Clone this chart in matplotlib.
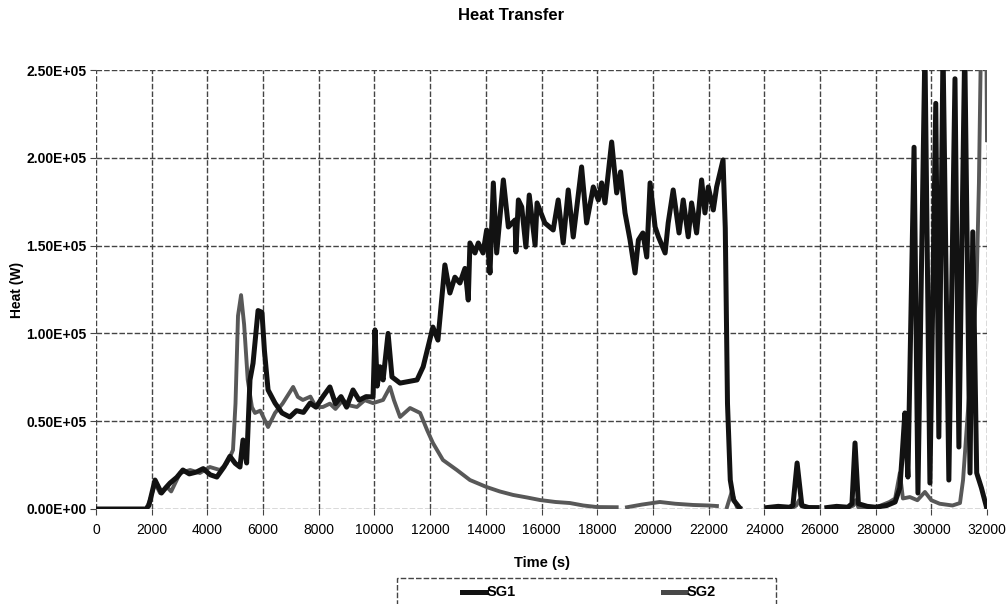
import numpy as np
import matplotlib
matplotlib.use("Agg")
import matplotlib.pyplot as plt
from matplotlib.patches import Rectangle
from matplotlib.lines import Line2D

nan = np.nan

title = "Heat Transfer"
x_label = "Time (s)"
y_label = "Heat (W)"
series_names = ["SG1", "SG2"]
x_ticks = list(range(0, 32001, 2000))
y_ticks = [0, 50000, 100000, 150000, 200000, 250000]

sg1_t = [0, 1800, 1900, 2120, 2350, 2500, 2660, 2900, 3120, 3350, 3600, 3850, 4100, 4340, 4600, 4810,
         5000, 5170, 5280, 5410, 5530, 5640, 5820, 5960, 6050, 6180, 6430, 6680, 6960, 7200, 7450, 7690,
         7900, 8150, 8400, 8600, 8800, 9000, 9230, 9450, 9700, 9950, 10020, 10100, 10200, 10310, 10490,
         10630, 10920, 11200, 11530, 11750, 12100, 12280, 12530, 12710, 12890, 13070, 13250, 13370, 13430,
         13610, 13730, 13900, 14030, 14150, 14270, 14390, 14630, 14810, 15050, 15080, 15170, 15290, 15440,
         15560, 15770, 15840, 16120, 16420, 16600, 16780, 16960, 17140, 17440, 17620, 17860, 18040, 18160,
         18280, 18520, 18700, 18840, 19000, 19180, 19360, 19480, 19640, 19780, 19900, 20080, 20200, 20440,
         20550, 20730, 20940, 21090, 21270, 21390, 21570, 21750, 21870, 21990, 22170, 22290, 22520, 22600,
         22680, 22780, 22900, 23100, 23150,
         24100, 24500, 24900, 25030, 25180, 25350, 25600, 25900, 25950,
         26250, 26600, 27000, 27150, 27260, 27380, 27700, 28000, 28400, 28700, 28870, 28950, 29050, 29160,
         29380, 29520, 29770, 29950, 30160, 30270, 30420, 30630, 30850, 30990, 31200, 31390, 31490, 31630,
         31800, 32000]
sg1_h = [0, 0, 2000, 16500, 9100, 12000, 14800, 18000, 22200, 20000, 21000, 23000, 19500, 18200, 24000, 30000,
         26000, 23900, 39300, 26200, 73500, 83000, 113000, 112000, 90000, 67800, 60300, 54700, 52400, 56000, 55000, 60300,
         58000, 64000, 69500, 60000, 64000, 58000, 67800, 62000, 64000, 63800, 102000, 70000, 81000, 73500, 100000,
         75200, 71700, 72500, 73500, 81000, 103600, 96200, 139000, 123000, 132000, 128700, 137000, 119000, 151500,
         145800, 151500, 145800, 158900, 134400, 185700, 145800, 187400, 160600, 164600, 146400, 176000, 172000, 149200,
         178800, 150300, 174300, 162900, 158900, 176000, 151500, 181700, 154900, 194800, 162900, 183400, 176000, 185700,
         174300, 209000, 180000, 192000, 168600, 153200, 134400, 153200, 157200, 143500, 185700, 160600, 155000, 145800,
         162900, 181700, 157200, 176000, 155000, 174300, 157200, 187400, 168600, 183400, 170300, 183400, 198800, 160000,
         60000, 16500, 5000, 1000, nan,
         800, 1500, 1000, 2000, 26200, 2000, 800, 800, nan,
         800, 1500, 1000, 3000, 37600, 3000, 1500, 1000, 2000, 4000, 12000, 30000, 54700, 18200,
         206000, 9100, 262000, 14800, 231000, 41000, 262000, 16500, 245000, 35300, 262000, 20500, 157800, 20500,
         12000, 0]

sg2_t = [0, 1800, 1940, 2120, 2300, 2550, 2700, 3020, 3380, 3730, 4090, 4450, 4700, 4810, 4920, 5010,
         5100, 5210, 5320, 5450, 5600, 5710, 5900, 6180, 6430, 6700, 6900, 7080, 7250, 7430, 7700, 7900,
         8150, 8400, 8600, 8870, 9100, 9370, 9650, 9950, 10310, 10560, 10700, 10920, 11280, 11640, 11890,
         12100, 12460, 12960, 13430, 14030, 14500, 14980, 15500, 15950, 16500, 17020, 17500, 18000, 18700,
         18850, 19070, 19600, 20250, 20800, 21440, 22000, 22300, 22450, 22660, 22830, 23020, 23150, 23200,
         24100, 25000, 25150, 25250, 25350, 25900, 25950, 26250, 27000, 27200, 27280, 27380, 28000, 28500,
         28700, 28870, 28980, 29230, 29500, 29770, 30000, 30300, 30760, 31030, 31140, 31310, 31490, 31630,
         31710, 31780, 31980, 32000]
sg2_h = [0, 0, 5100, 14800, 9100, 12500, 10000, 20500, 22200, 20500, 23900, 22200, 26000, 29600, 33600, 60000,
         110000, 121800, 105000, 73500, 58000, 54700, 56000, 46700, 54700, 60000, 65000, 69500, 63800, 62100, 64000, 58000,
         58100, 60000, 57000, 62100, 59000, 58100, 62000, 60300, 62100, 69500, 62000, 52400, 57500, 54700, 45000,
         37600, 27900, 22200, 16500, 12500, 10000, 8000, 6500, 5100, 4000, 3400, 2000, 1100, 1000,
         nan, 1000, 2500, 4000, 3000, 2300, 2000, 1700, nan, 1000, 9700, 1000, 500, nan,
         500, 500, 2000, 5000, 1500, 500, nan, 500, 500, 2000, 5000, 1000, 800, 4000,
         6000, 20500, 6000, 6800, 5000, 9700, 5000, 3000, 2000, 3400, 16500, 54700, 92300, 130000,
         185700, 262000, 262000, 210000]

W, H = 1007, 604
fig = plt.figure(figsize=(W / 100, H / 100), dpi=100)
ax = fig.add_axes([96 / W, 1 - 509 / H, (987 - 96) / W, (509 - 70) / H])

ax.plot(sg2_t, sg2_h, color="#585858", lw=2.8, solid_joinstyle="round", zorder=3)
ax.plot(sg1_t, sg1_h, color="#121212", lw=3.6, solid_joinstyle="round", zorder=4)

ax.set_xlim(0, 32000)
ax.set_ylim(0, 250000)
ax.set_xticks(x_ticks)
ax.set_yticks(y_ticks)
ax.set_xticklabels([str(v) for v in x_ticks], fontsize=10, family="Liberation Sans")
ax.set_yticklabels(["%.2fE+05" % (v / 1e5) if v else "0.00E+00" for v in y_ticks],
                   fontsize=10, family="Liberation Sans", fontweight="bold")
ax.grid(True, color="#444444", lw=1.0, ls=(0, (4, 1.5)))
for s in ax.spines.values():
    s.set_visible(False)
ax.tick_params(axis="x", color="#444444", length=4, pad=6)
ax.tick_params(axis="y", color="#444444", length=4, pad=3)

ax.set_xlabel(x_label, fontsize=10.5, fontweight="bold", family="Liberation Sans", labelpad=14)
ax.set_ylabel(y_label, fontsize=10, fontweight="bold", family="Liberation Sans")
ax.yaxis.set_label_coords(-72 / (987 - 96), 0.5)
fig.text(511 / W, 1 - 15 / H, title, ha="center", va="center", fontsize=12,
         fontweight="bold", family="Liberation Sans")

# legend box (bottom, partly cut off)
fig.add_artist(Rectangle((397 / W, 1 - 630 / H), (776 - 397) / W, 52 / H,
                         transform=fig.transFigure, fill=False, ec="#444444", lw=1.0,
                         ls=(0, (4, 1.5))))
ly = 1 - 592 / H
fig.add_artist(Line2D([462 / W, 486 / W], [ly, ly], transform=fig.transFigure,
                      color="#121212", lw=3.6))
fig.text(487 / W, ly, series_names[0], va="center", ha="left", fontsize=10.5,
         fontweight="bold", family="Liberation Sans")
fig.add_artist(Line2D([663 / W, 686 / W], [ly, ly], transform=fig.transFigure,
                      color="#484848", lw=3.6))
fig.text(687 / W, ly, series_names[1], va="center", ha="left", fontsize=10.5,
         fontweight="bold", family="Liberation Sans")

fig.savefig("out.png", dpi=100)
